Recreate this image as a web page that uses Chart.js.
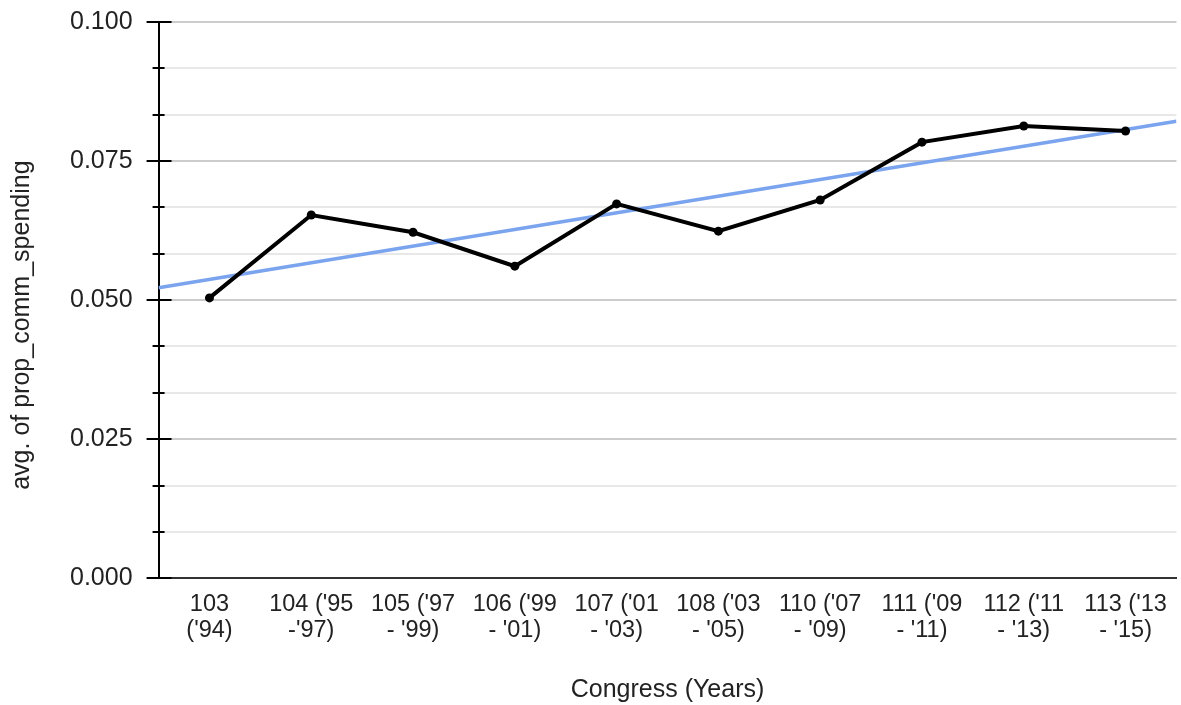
<!DOCTYPE html>
<html>
<head>
<meta charset="utf-8">
<script src="https://cdn.jsdelivr.net/npm/chart.js@4"></script>
<style>
html,body{margin:0;padding:0;background:#fff;}
#wrap{width:1181px;height:705px;position:relative;}
</style>
</head>
<body>
<div id="wrap"><canvas id="c"></canvas></div>
<script>
// ---- data ----
const categories = [
  ["103", "('94)"],
  ["104 ('95", "-'97)"],
  ["105 ('97", "- '99)"],
  ["106 ('99", "- '01)"],
  ["107 ('01", "- '03)"],
  ["108 ('03", "- '05)"],
  ["110 ('07", "- '09)"],
  ["111 ('09", "- '11)"],
  ["112 ('11", "- '13)"],
  ["113 ('13", "- '15)"]
];
const values = [0.0504, 0.0653, 0.0622, 0.0561, 0.0673, 0.0624, 0.0680, 0.0784, 0.0813, 0.0804];
const yMin = 0, yMax = 0.1;
const yMajorStep = 0.025;
const minorPerMajor = 3;
const xTitle = "Congress (Years)";
const yTitle = "avg. of prop_comm_spending";

// ---- least-squares trend line from the data ----
const n = values.length;
const xs = values.map((_, i) => i);
const mx = xs.reduce((a, b) => a + b, 0) / n;
const my = values.reduce((a, b) => a + b, 0) / n;
let sxy = 0, sxx = 0;
xs.forEach((x, i) => { sxy += (x - mx) * (values[i] - my); sxx += (x - mx) * (x - mx); });
const slope = sxy / sxx, intercept = my - slope * mx;
const xLo = -0.5, xHi = n - 0.5;
const trendPoints = [xLo, xHi].map(x => ({x: x, y: intercept + slope * x}));

const FONT = "'Liberation Sans', Arial, sans-serif";
const TXT = '#222';

const tickMarks = {
  id: 'tickMarks',
  afterDraw(chart) {
    const ys = chart.scales.y;
    const ctx = chart.ctx;
    const x0 = chart.chartArea.left;
    ctx.save();
    ctx.strokeStyle = '#000';
    ctx.lineWidth = 2;
    ys.ticks.forEach((t, i) => {
      const py = Math.round(ys.getPixelForValue(t.value));
      const major = i % minorPerMajor === 0;
      const l = major ? 12 : 6, r = major ? 13 : 6;
      ctx.beginPath();
      ctx.moveTo(x0 - l, py);
      ctx.lineTo(x0 + r, py);
      ctx.stroke();
    });
    // y axis title (placed slightly below the plot centre, as in the original)
    const ca = chart.chartArea;
    ctx.translate(22, (ca.top + ca.bottom) / 2 + 25);
    ctx.rotate(-Math.PI / 2);
    ctx.font = "25px " + FONT;
    ctx.fillStyle = TXT;
    ctx.textAlign = 'center';
    ctx.textBaseline = 'middle';
    ctx.fillText(yTitle, 0, 0);
    ctx.restore();
  }
};

new Chart(document.getElementById('c'), {
  type: 'line',
  data: {
    datasets: [
      {
        data: values.map((v, i) => ({x: i, y: v})),
        borderColor: '#000',
        backgroundColor: '#000',
        borderWidth: 4,
        pointRadius: 4.5,
        pointBorderWidth: 0,
        tension: 0
      },
      {
        data: trendPoints,
        borderColor: '#7ba4ee',
        borderWidth: 3.5,
        pointRadius: 0,
        tension: 0
      }
    ]
  },
  options: {
    responsive: true,
    maintainAspectRatio: false,
    animation: false,
    layout: {padding: {top: 22, right: 0, left: 66, bottom: 0}},
    plugins: {legend: {display: false}, tooltip: {enabled: false}},
    scales: {
      x: {
        type: 'linear',
        min: xLo,
        max: xHi,
        afterBuildTicks: s => { s.ticks = categories.map((_, i) => ({value: i})); },
        grid: {display: false, drawTicks: false},
        border: {display: true, color: '#333', width: 2},
        ticks: {
          autoSkip: false,
          maxRotation: 0,
          minRotation: 0,
          padding: 14,
          color: TXT,
          font: {family: FONT, size: 23.5, lineHeight: 1.08},
          callback: v => categories[v]
        },
        title: {
          display: true,
          text: xTitle,
          color: TXT,
          font: {family: FONT, size: 25, lineHeight: 1.2},
          padding: {top: 18, bottom: 0}
        }
      },
      y: {
        min: yMin,
        max: yMax,
        afterBuildTicks: s => {
          const steps = Math.round((yMax - yMin) / yMajorStep) * minorPerMajor;
          s.ticks = Array.from({length: steps + 1}, (_, i) => ({value: yMin + i * (yMax - yMin) / steps}));
        },
        grid: {
          drawTicks: true,
          tickLength: 22,
          tickColor: 'rgba(0,0,0,0)',
          color: c => (c.index % minorPerMajor === 0 ? '#cccccc' : '#e8e8e8'),
          lineWidth: 2
        },
        border: {display: true, color: '#000', width: 2},
        ticks: {
          padding: 4,
          color: TXT,
          font: {family: FONT, size: 25},
          callback: (v, i) => (i % minorPerMajor === 0 ? v.toFixed(3) : '')
        },
        title: {display: false}
      }
    }
  },
  plugins: [tickMarks]
});
</script>
</body>
</html>
